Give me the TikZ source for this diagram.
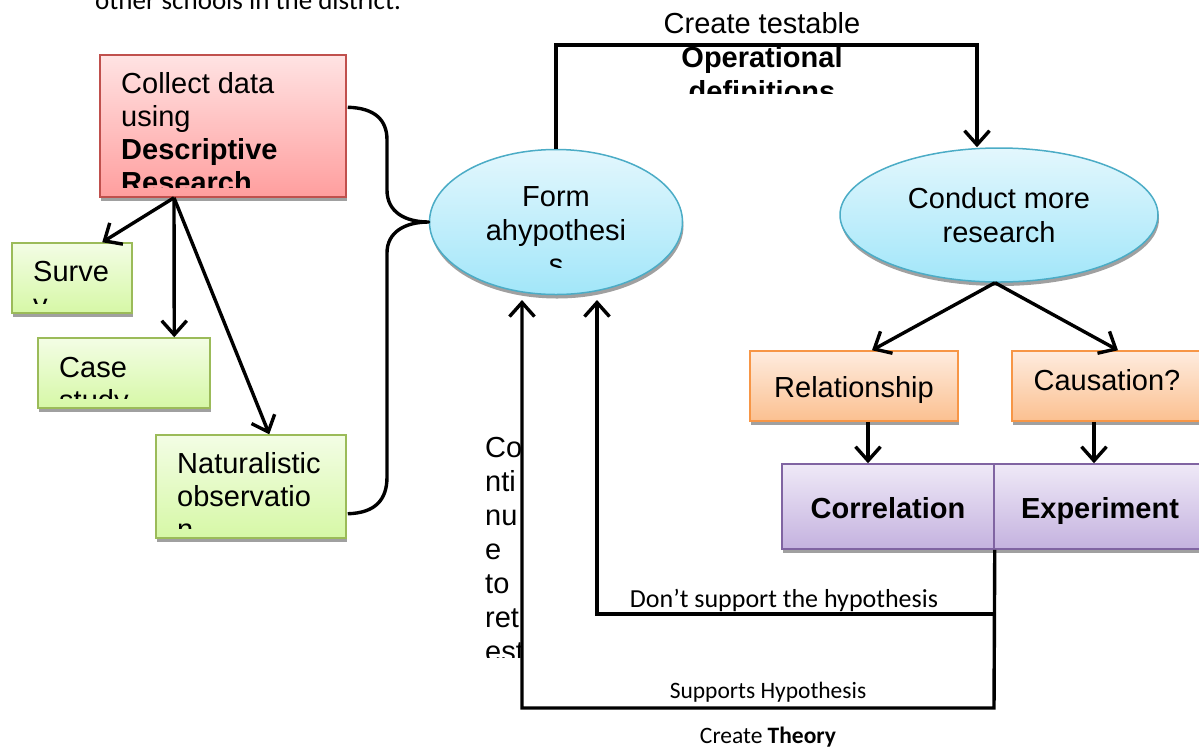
\documentclass[tikz,border=0pt]{standalone}
\usepackage{fontspec}
\setmainfont{Liberation Sans}
\newfontfamily\labelfont{Carlito}
\usetikzlibrary{shapes.geometric,shadows,arrows.meta,calc}

\definecolor{redline}{HTML}{C0504D}\definecolor{redtop}{HTML}{FFE3E3}\definecolor{redbot}{HTML}{FF9E9E}
\definecolor{greenline}{HTML}{9BBB59}\definecolor{greentop}{HTML}{F3FDE5}\definecolor{greenbot}{HTML}{D6F8A6}
\definecolor{blueline}{HTML}{4BACC6}\definecolor{bluetop}{HTML}{E3F7FD}\definecolor{bluebot}{HTML}{A2E6F9}
\definecolor{orangeline}{HTML}{F79646}\definecolor{orangetop}{HTML}{FEECDF}\definecolor{orangebot}{HTML}{FBC090}
\definecolor{purpleline}{HTML}{8064A2}\definecolor{purpletop}{HTML}{EFE9F7}\definecolor{purplebot}{HTML}{C4B2DF}
\definecolor{shade}{HTML}{A0A0A0}

\newcommand{\bigtext}{\fontsize{29}{33}\selectfont}
\newcommand{\midtext}{\fontsize{29}{34}\selectfont}

\tikzset{
  shapebox/.style={line width=1.5pt, inner sep=0pt,
    drop shadow={shadow xshift=1pt, shadow yshift=-4pt, fill=shade, opacity=1}},
  redbox/.style={shapebox, rectangle, draw=redline, top color=redtop, bottom color=redbot},
  greenbox/.style={shapebox, rectangle, draw=greenline, top color=greentop, bottom color=greenbot},
  bluebubble/.style={shapebox, ellipse, draw=blueline, top color=bluetop, bottom color=bluebot},
  orangebox/.style={shapebox, rectangle, draw=orangeline, top color=orangetop, bottom color=orangebot},
  purplebox/.style={shapebox, rectangle, draw=purpleline, top color=purpletop, bottom color=purplebot},
  txt/.style={inner sep=0pt, font=\midtext},
  ltxt/.style={txt, anchor=base west},
  ctxt/.style={txt, anchor=base},
  small/.style={inner sep=0pt, anchor=base, font=\labelfont\fontsize{26}{30}\selectfont},
  conn/.style={line width=3.4pt, draw=black},
  arr/.style={conn, -{Straight Barb[length=14pt, width=25pt]}},
}

\begin{document}
\begin{tikzpicture}[x=1pt, y=-1pt]
\useasboundingbox (0,0) rectangle (1199,748);

% heading line left over from the page above
\node[inner sep=0pt, anchor=base west, font=\labelfont\fontsize{27}{32}\selectfont]
  (pagetext) at (95,9) {other schools in the district.};

% ---------- descriptive research ----------
\node[redbox, minimum width=246pt, minimum height=142pt] (desc) at (223,126) {};
\node[greenbox, minimum width=120pt, minimum height=70pt] (survey) at (72,278) {};
\node[greenbox, minimum width=172pt, minimum height=70pt] (case) at (124,373) {};
\node[greenbox, minimum width=190pt, minimum height=103pt] (natural) at (251,486.5) {};

\begin{scope}
  \clip (100,55) rectangle (346,187);
  \node[ltxt, font=\bigtext] (desctext) at (121,93)
    {\begin{tabular}[t]{@{}l@{}}Collect data\\using\\\textbf{Descriptive}\\\textbf{Research}\end{tabular}};
\end{scope}
\begin{scope}
  \clip (12,243) rectangle (132,303);
  \node[ltxt, font=\bigtext] (surveytext) at (33,281)
    {\begin{tabular}[t]{@{}l@{}}Surve\\y\end{tabular}};
\end{scope}
\begin{scope}
  \clip (38,338) rectangle (210,398);
  \node[ltxt, font=\bigtext] (casetext) at (59,377)
    {\begin{tabular}[t]{@{}l@{}}Case\\study\end{tabular}};
\end{scope}
\begin{scope}
  \clip (156,435) rectangle (346,528);
  \node[ltxt, font=\bigtext] (naturaltext) at (177,473)
    {\begin{tabular}[t]{@{}l@{}}Naturalistic\\observatio\\n\end{tabular}};
\end{scope}

\coordinate (dsrc) at ($(desc.south)+(-49,0)$);
\draw[arr] (dsrc) -- ($(survey.north west)+(91,0)$);
\draw[arr] (dsrc) -- ($(case.north west)+(137,0)$);
\draw[arr] (dsrc) -- ($(natural.north west)+(114,0)$);

% ---------- hypothesis ----------
\node[bluebubble, minimum width=253pt, minimum height=145pt] (hyp) at (556,222) {};
\begin{scope}
  \clip (430,150) rectangle (683,267);
  \node[ctxt] (hyptext) at (556,206)
    {\begin{tabular}[t]{@{}c@{}}Form\\ahypothesi\\s\end{tabular}};
\end{scope}

% brace gathering the three methods
\coordinate (braceTop) at ($(desc.north east)+(1,53)$);
\coordinate (braceBot) at ($(natural.south east)+(1,-25)$);
\draw[conn, line join=round]
  (braceTop) .. controls (375,108) and (387,120) .. (387,140) -- (387,190)
  .. controls (387,212) and (405,222) .. (hyp.west)
  .. controls (405,222) and (387,232) .. (387,253) -- (387,477)
  .. controls (387,500) and (375,513) .. (braceBot);

% ---------- operational definitions ----------
\node[bluebubble, minimum width=318pt, minimum height=134pt] (cond) at (999,215) {};
\node[ctxt] (condtext) at (999,208)
  {\begin{tabular}[t]{@{}c@{}}Conduct more\\research\end{tabular}};

\coordinate (optTurn) at (977,45);
\draw[arr] (hyp.north) |- (optTurn) -- (optTurn |- cond.north);
\begin{scope}
  \clip (600,0) rectangle (930,93);
  \node[ctxt] (optext) at (762,33)
    {\begin{tabular}[t]{@{}c@{}}Create testable\\\textbf{Operational}\\\textbf{definitions}\end{tabular}};
\end{scope}

% ---------- relationship / causation ----------
\node[orangebox, minimum width=208pt, minimum height=70pt] (rel) at (854,386) {};
\node[orangebox, minimum width=200pt, minimum height=70pt] (caus) at (1112,386) {};
\node[ctxt] (reltext) at (854,397) {Relationship};
\node[ctxt] (caustext) at (1107,390) {Causation?};

\coordinate (csrc) at ($(cond.south)+(-4,0)$);
\draw[arr] (csrc) -- ($(rel.north)+(18,0)$);
\draw[arr] (csrc) -- ($(caus.north)+(6,0)$);

\node[purplebox, minimum width=212pt, minimum height=85pt] (corr) at (888,506.5) {};
\node[purplebox, minimum width=216pt, minimum height=85pt] (exp) at (1102,506.5) {};
\node[ctxt, font=\midtext\bfseries] (corrtext) at (888,518) {Correlation};
\node[ctxt, font=\midtext\bfseries] (exptext) at (1100,518) {Experiment};

\draw[arr] ($(rel.south)+(14,0)$) -- ($(corr.north)+(-20,0)$);
\draw[arr] ($(caus.south)+(-18,0)$) -- ($(exp.north)+(-8,0)$);

% ---------- feedback loops ----------
\coordinate (outerTurn) at (994,708);
\coordinate (innerTurn) at (994,614);
\coordinate (supTip) at (522,300);
\coordinate (dontTip) at (597,300);
\draw[arr] (corr.south east) -- (outerTurn) -| (supTip);
\draw[arr] (innerTurn) -| (dontTip);

\node[small] (dontlabel) at (784,607) {Don’t support the hypothesis};
\node[small, font=\labelfont\fontsize{23.5}{28}\selectfont] (suplabel) at (768,698) {Supports Hypothesis};
\node[small, font=\labelfont\fontsize{23.5}{28}\selectfont] (theorylabel) at (768,743) {Create \textbf{Theory}};

\begin{scope}
  \clip (470,420) rectangle (520,657);
  \node[ltxt] (retesttext) at (485,457)
    {\begin{tabular}[t]{@{}l@{}}Co\\nti\\nu\\e\\to\\ret\\est\end{tabular}};
\end{scope}
\end{tikzpicture}
\end{document}
